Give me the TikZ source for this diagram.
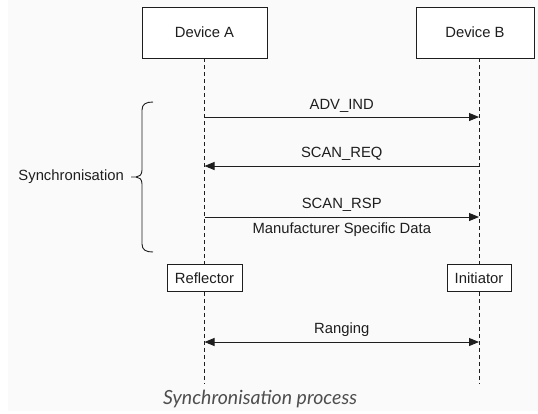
\documentclass[tikz,border=0pt]{standalone}
\usepackage{fontspec}
\setmainfont{Liberation Sans}
\newfontfamily\captionfont{Lato}
\usetikzlibrary{arrows.meta}
\definecolor{pagebg}{HTML}{FAFAFA}
\definecolor{ink}{HTML}{1E1E1E}
\definecolor{captiongrey}{HTML}{4E4E4E}
\tikzset{
  actor/.style={draw=ink, line width=0.9bp, fill=white, inner sep=0pt,
    font=\fontsize{14.8bp}{17bp}\selectfont, text=ink},
  lifeline/.style={draw=ink, line width=0.9bp, dash pattern=on 4bp off 3bp},
  msg/.style={draw=ink, line width=0.9bp, -{Triangle[length=10bp,width=8bp]}},
  biMsg/.style={draw=ink, line width=0.9bp, {Triangle[length=10bp,width=8bp]}-{Triangle[length=10bp,width=8bp]}},
  lbl/.style={inner sep=0pt, font=\fontsize{14.8bp}{17bp}\selectfont, text=ink},
  bracePath/.style={draw=ink, line width=0.9bp}
}
\begin{document}
\begin{tikzpicture}[x=1bp,y=-1bp]
  \useasboundingbox (0,0) rectangle (538,413);
  \fill[white] (0,0) rectangle (538,413);
  \fill[pagebg] (8,0) rectangle (538,411);

  % participants
  \node[actor, minimum width=125bp, minimum height=51bp] (devA) at (204.5,32.5) {Device A};
  \node[actor, minimum width=118bp, minimum height=51bp] (devB) at (475,32.5) {Device B};
  \node[actor, minimum width=75bp, minimum height=27bp] (refl) at (204.5,278) {Reflector};
  \node[actor, minimum width=64bp, minimum height=27bp] (init) at (479,278) {Initiator};

  % lifeline ends and message anchors
  \coordinate (aEnd) at (204.5,384);
  \coordinate (bEnd) at (479,384);
  \coordinate (advA) at (204.5,117);
  \coordinate (advB) at (479,117);
  \coordinate (reqA) at (204.5,166);
  \coordinate (reqB) at (479,166);
  \coordinate (rspA) at (204.5,217);
  \coordinate (rspB) at (479,217);
  \coordinate (rngA) at (204.5,342);
  \coordinate (rngB) at (479,342);

  % lifelines
  \draw[lifeline] (devA.south) -- (refl.north);
  \draw[lifeline] (refl.south) -- (aEnd);
  \draw[lifeline] (devB.south -| init) -- (init.north);
  \draw[lifeline] (init.south) -- (bEnd);

  % messages
  \draw[msg] (advA) -- (advB);
  \node[lbl] (advLbl) at (341.75,106) {ADV\_IND};
  \draw[msg] (reqB) -- (reqA);
  \node[lbl] (reqLbl) at (341.75,154) {SCAN\_REQ};
  \draw[msg] (rspA) -- (rspB);
  \node[lbl] (rspLbl) at (341.75,205) {SCAN\_RSP};
  \node[lbl] (msdLbl) at (341.75,230) {Manufacturer Specific Data};
  \draw[biMsg] (rngA) -- (rngB);
  \node[lbl] (rngLbl) at (341.75,330) {Ranging};

  % synchronisation brace
  \draw[bracePath] (153,102) .. controls (146,102) and (142,104) .. (142,110)
    -- (142,170) .. controls (142,175) and (139,177) .. (136,177) -- (131,177);
  \draw[bracePath] (136,177) .. controls (139,177) and (142,179) .. (142,184)
    -- (142,244) .. controls (142,250) and (146,252) .. (153,252);
  \node[lbl, anchor=east] (syncLbl) at (124,177) {Synchronisation};

  % caption
  \node[inner sep=0pt, anchor=base west, text=captiongrey,
    font=\captionfont\itshape\fontsize{19.5bp}{22bp}\selectfont] (cap) at (163,404) {Synchronisation process};
\end{tikzpicture}
\end{document}
